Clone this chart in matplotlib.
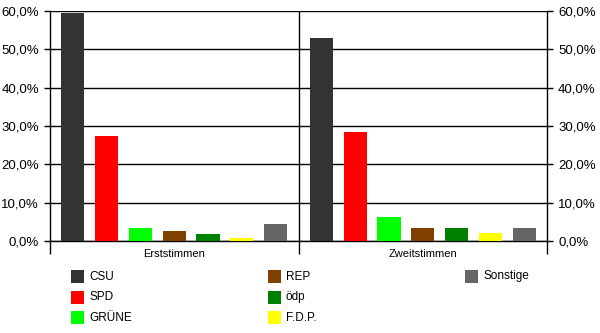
"""
Erststimmen / Zweitstimmen Balkendiagramm
"""
import matplotlib
matplotlib.use('Agg')
import matplotlib.pyplot as plt
from matplotlib.patches import Rectangle
from matplotlib.ticker import FuncFormatter

plt.rcParams['font.family'] = ['Liberation Sans', 'DejaVu Sans']

# Daten
gruppen = ['Erststimmen', 'Zweitstimmen']
parteien = ['CSU', 'SPD', 'GRÜNE', 'REP', 'ödp', 'F.D.P.', 'Sonstige']
farben = ['#333333', '#ff0000', '#00ff00', '#804000', '#008000', '#ffff00', '#666666']
erststimmen = [59.6, 27.4, 3.4, 2.7, 1.8, 0.9, 4.4]
zweitstimmen = [53.0, 28.4, 6.3, 3.4, 3.4, 2.2, 3.4]
werte = [erststimmen, zweitstimmen]

fig = plt.figure(figsize=(6.0, 3.33), dpi=100)
ax = fig.add_axes([50 / 600, 92 / 333, 497 / 600, 230 / 333])

schritt = 0.136
breite = 0.093
for g, reihe in enumerate(werte):
    for j, wert in enumerate(reihe):
        x = g + 0.5 + (j - 3) * schritt
        ax.bar(x, wert, width=breite, color=farben[j], linewidth=0, zorder=3)

# Achsen
ax.set_xlim(0, len(gruppen))
ax.set_ylim(0, 60)
ax.set_yticks(range(0, 61, 10))
ax.yaxis.set_major_formatter(FuncFormatter(lambda v, p: f'{v:.1f}%'.replace('.', ',')))
ax.yaxis.set_ticks_position('both')
ax.tick_params(axis='y', direction='out', length=4, width=1, pad=4,
               labelsize=9.5, labelright=True, colors='black')

ax.set_xticks([g + 0.5 for g in range(len(gruppen))])
ax.set_xticklabels(gruppen)
ax.set_xticks(range(len(gruppen) + 1), minor=True)
ax.tick_params(axis='x', which='major', length=0, pad=6, labelsize=8)
ax.tick_params(axis='x', which='minor', direction='out', length=9, width=1)

ax.grid(True, axis='y', color='black', linewidth=1, zorder=1)
ax.set_axisbelow(True)
for g in range(1, len(gruppen)):
    ax.axvline(g, color='black', linewidth=1, zorder=2)

ax.spines['top'].set_visible(False)
for s in ['left', 'right', 'bottom']:
    ax.spines[s].set_linewidth(1)
    ax.spines[s].set_color('black')

# Legende
for k, (partei, farbe) in enumerate(zip(parteien, farben)):
    spalte, zeile = k // 3, k % 3
    x0 = 71 + spalte * 197
    y0 = 276.5 + zeile * 20.7
    fig.patches.append(Rectangle((x0 / 600, 1 - (y0 + 6.5) / 333), 13 / 600, 13 / 333,
                                 transform=fig.transFigure, color=farbe, linewidth=0))
    fig.text((x0 + 18) / 600, 1 - y0 / 333, partei, fontsize=8.5, va='center', ha='left')

fig.savefig('out.png', dpi=100)
